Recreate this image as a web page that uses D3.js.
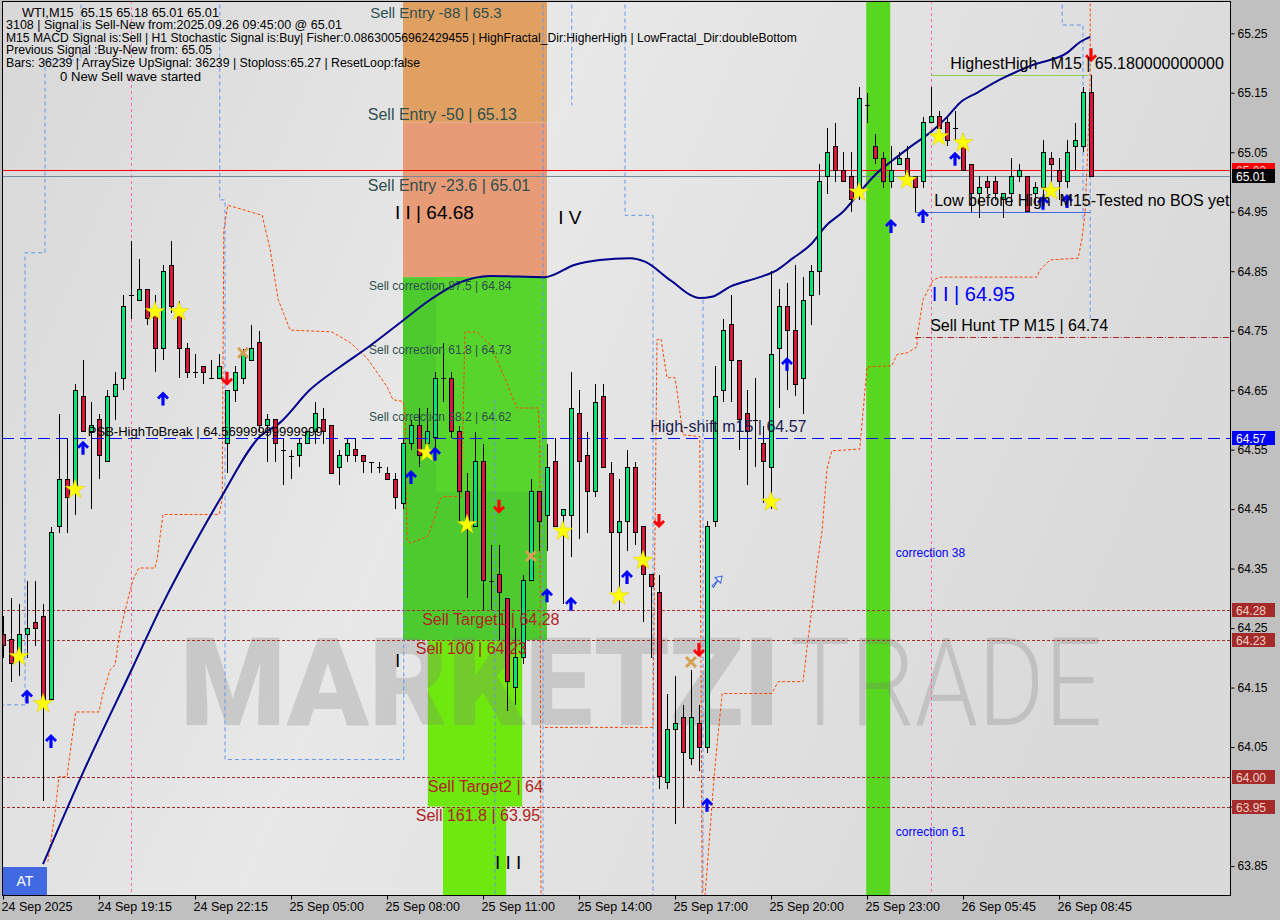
<!DOCTYPE html>
<html><head><meta charset="utf-8">
<script src="https://cdn.jsdelivr.net/npm/d3@7"></script>
<style>body{margin:0;background:#c0c0c0;}svg{display:block;}</style>
</head><body>
<svg id="c" width="1280" height="920"></svg>
<script>
// ---------------- DATA ----------------
const timeLabels = ["24 Sep 2025","24 Sep 19:15","24 Sep 22:15","25 Sep 05:00","25 Sep 08:00","25 Sep 11:00","25 Sep 14:00","25 Sep 17:00","25 Sep 20:00","25 Sep 23:00","26 Sep 05:45","26 Sep 08:45"];
const timeLabelIdx = [0,12,24,36,48,60,72,84,96,108,120,132];
const priceTicks = [65.25,65.15,65.05,64.95,64.85,64.75,64.65,64.55,64.45,64.35,64.25,64.15,64.05,63.95,63.85];

const open = [64.24,64.23,64.20,64.24,64.26,64.27,64.13,64.42,64.50,64.48,
64.64,64.58,64.60,64.53,64.64,64.67,64.81,64.80,64.82,64.78,
64.72,64.86,64.78,64.72,64.68,64.69,64.67,64.67,64.56,64.65,
64.67,64.70,64.73,64.59,64.60,64.55,64.54,64.54,64.56,64.58,
64.60,64.59,64.52,64.54,64.55,64.54,64.53,64.52,64.51,64.50,
64.46,64.56,64.59,64.56,64.57,64.67,64.67,64.58,64.48,64.42,
64.53,64.33,64.34,64.30,64.15,64.20,64.33,64.48,64.44,64.53,
64.44,64.44,64.61,64.54,64.48,64.64,64.51,64.41,64.43,64.52,
64.42,64.34,64.31,63.99,64.08,64.10,64.03,64.09,64.05,64.43,
64.65,64.76,64.70,64.61,64.60,64.56,64.52,64.72,64.79,64.75,
64.67,64.81,64.85,65.01,65.06,65.02,65.01,64.98,65.13,65.06,
65.04,65.00,65.03,65.04,65.01,65.00,65.10,65.11,65.10,65.09,
65.07,65.03,64.98,65.00,65.00,64.97,64.98,65.01,65.01,64.98,
64.99,65.04,65.02,65.00,65.06,65.06,65.15];
const high = [64.27,64.30,64.29,64.33,64.33,64.29,64.42,64.61,64.57,64.66,
64.70,64.63,64.61,64.65,64.68,64.81,64.90,64.87,64.82,64.81,
64.86,64.90,64.80,64.73,64.71,64.69,64.70,64.71,64.65,64.69,
64.72,64.76,64.75,64.61,64.60,64.57,64.55,64.57,64.58,64.63,
64.62,64.59,64.55,64.57,64.57,64.54,64.53,64.53,64.52,64.51,
64.57,64.60,64.62,64.62,64.68,64.73,64.68,64.59,64.51,64.58,
64.56,64.39,64.39,64.30,64.25,64.34,64.50,64.48,64.56,64.57,
64.45,64.68,64.65,64.58,64.66,64.66,64.53,64.50,64.55,64.53,
64.42,64.34,64.34,64.14,64.17,64.12,64.18,64.12,64.43,64.69,
64.77,64.81,64.70,64.65,64.67,64.59,64.85,64.82,64.83,64.86,
64.84,64.86,65.03,65.09,65.10,65.05,65.05,65.16,65.15,65.08,
65.05,65.06,65.05,65.06,65.01,65.11,65.16,65.12,65.11,65.12,
65.08,65.03,65.01,65.01,65.01,64.98,65.04,65.03,65.01,65.00,
65.07,65.05,65.04,65.07,65.10,65.16,65.18];
const low = [64.20,64.16,64.17,64.20,64.22,63.96,64.13,64.41,64.41,64.44,
64.58,64.45,64.50,64.53,64.60,64.65,64.77,64.80,64.76,64.68,
64.70,64.78,64.67,64.67,64.67,64.66,64.67,64.67,64.51,64.63,
64.66,64.70,64.58,64.53,64.53,64.49,64.50,64.52,64.56,64.56,
64.56,64.51,64.49,64.53,64.53,64.51,64.51,64.51,64.50,64.45,
64.45,64.55,64.52,64.55,64.55,64.63,64.57,64.43,64.30,64.42,
64.28,64.28,64.23,64.11,64.12,64.19,64.33,64.38,64.38,64.42,
64.29,64.37,64.40,64.41,64.47,64.52,64.31,64.28,64.38,64.39,
64.26,64.20,63.98,63.98,63.92,63.95,64.02,64.01,64.04,64.42,
64.63,64.63,64.55,64.49,64.52,64.46,64.45,64.62,64.65,64.64,
64.61,64.76,64.81,64.98,65.00,65.00,64.95,64.97,65.10,65.03,
64.99,64.99,65.03,65.00,64.95,64.99,65.10,65.08,65.06,65.07,
65.02,64.95,64.94,64.98,64.97,64.94,64.96,65.00,64.95,64.96,
64.97,65.00,64.97,64.99,65.02,65.05,65.01];
const close = [64.22,64.19,64.24,64.25,64.25,64.13,64.41,64.50,64.47,64.65,
64.58,64.59,64.54,64.64,64.66,64.79,64.81,64.82,64.77,64.72,
64.85,64.79,64.72,64.68,64.68,64.68,64.67,64.69,64.65,64.68,
64.71,64.72,64.59,64.60,64.56,64.55,64.54,64.56,64.58,64.61,
64.58,64.51,64.54,64.56,64.54,64.53,64.53,64.52,64.50,64.47,
64.56,64.59,64.54,64.58,64.67,64.67,64.58,64.48,64.42,64.53,
64.33,64.33,64.31,64.16,64.20,64.33,64.48,64.43,64.52,64.42,
64.45,64.62,64.53,64.48,64.63,64.52,64.41,64.43,64.52,64.41,
64.34,64.32,64.00,64.08,64.09,64.04,64.10,64.05,64.42,64.64,
64.75,64.70,64.60,64.58,64.60,64.53,64.71,64.79,64.75,64.66,
64.80,64.85,65.00,65.05,65.02,65.00,64.97,65.14,65.13,65.04,
65.00,65.02,65.04,65.01,64.99,65.10,65.11,65.09,65.07,65.09,
65.02,64.98,64.99,64.99,64.98,64.98,65.01,65.02,64.95,64.99,
65.05,65.03,65.00,65.05,65.07,65.15,65.01];

// moving average (bar index, price)
const maIdx = [5,10,16.25,19.6,24.9,27.1,32.1,34.6,38.4,42.1,45.5,49.6,53.4,57.1,60.9,67.75,71.5,74.6,78.4,80.25,83.4,87.1,88.6,90.9,94.6,96.75,98.75,100.9,103,105,107.1,109.25,111.25,113.4,116.25,118,119.6,121.75,124.6,128.75,133,134.6,135.9];
const maVal = [63.853,64.007,64.185,64.281,64.415,64.466,64.572,64.595,64.651,64.689,64.721,64.763,64.802,64.831,64.842,64.840,64.861,64.869,64.872,64.866,64.835,64.805,64.807,64.824,64.840,64.852,64.872,64.894,64.928,64.950,64.983,65.015,65.037,65.059,65.087,65.109,65.133,65.150,65.172,65.197,65.217,65.235,65.244];

// envelope step lines (bar index, price)
const envOrangeA = [[5.6,63.857],[6.5,63.94],[7,64.0],[8,64.0],[8.6,64.062],[9.1,64.109],[12,64.109],[12.5,64.141],[13.4,64.18],[14,64.188],[14.6,64.242],[15.6,64.298],[16.25,64.331],[17,64.351],[19,64.351],[19.25,64.365],[20,64.441],[27,64.441],[27.4,64.466],[27.6,64.919],[28.1,64.961],[32.4,64.944],[33.4,64.886],[34.4,64.802],[35.9,64.751],[41.1,64.748],[43.4,64.73],[45.5,64.704],[48,64.656],[48.75,64.634],[50,64.631],[50.25,64.617],[50.5,64.398],[50.9,64.393],[53.1,64.404],[53.75,64.427],[54.6,64.466],[55,64.471],[57.3,64.471],[57.75,64.748],[59.25,64.748],[60.9,64.726],[63,64.662],[64.25,64.62],[66.9,64.62],[67.1,64.567],[67.25,63.8]];
const envOrangeB = [[67.75,64.083],[81.25,64.083],[81.75,64.735],[82.25,64.736],[83,64.671],[84,64.671],[84.25,64.649],[84.6,64.614],[85,64.575],[87.1,64.572],[87.4,63.8]];
const envOrangeC = [[87.75,63.8],[88.6,63.948],[88.9,64.002],[89.4,64.074],[89.9,64.14],[96.1,64.14],[96.9,64.16],[100,64.16],[100.25,64.187],[100.6,64.229],[101.25,64.296],[101.75,64.355],[102.4,64.415],[103,64.518],[103.6,64.548],[107.1,64.551],[108,64.689],[111.1,64.691],[111.75,64.71],[113.1,64.713],[114.25,64.723],[114.25,64.74],[114.6,64.768],[115,64.802],[116.25,64.835],[117.1,64.84],[129.25,64.84],[129.6,64.852],[130.9,64.869],[134.4,64.872],[134.9,64.907],[135.25,64.948],[135.6,65.059],[135.9,65.172],[135.9,65.3]];
const envBlue = [
 [[9.75,65.31],[9.75,65.205],[5.25,65.205],[5.25,64.881],[2.75,64.881],[2.75,64.121],[-0.2,64.121]],
 [[27.1,65.31],[27.1,64.97],[27.75,64.97],[27.75,64.029],[50.1,64.029],[50.1,64.567]],
 [[61.5,64.634],[61.5,63.8]],
 [[67.5,65.31],[67.5,63.8]],
 [[71.1,65.31],[71.1,65.129]],
 [[77.75,65.31],[77.75,64.944],[81.25,64.944],[81.25,63.8]],
 [[87.5,64.802],[87.5,63.8]],
 [[132.4,65.31],[132.4,65.264],[135,65.264],[135,64.936]],
 [[135.9,65.071],[135.9,64.768]]
];

// signal markers (bar index, price)
const starIdx = [2,5,9,19,22,53,58,70,77,80,96,107,113,117,120,131];
const starVal = [64.202,64.123,64.483,64.782,64.782,64.545,64.424,64.413,64.304,64.364,64.462,64.983,65.003,65.076,65.066,64.985];
const upIdx = [3,6,10,20,51,54,68,71,78,88,98,111,115,119,130,133];
const upVal = [64.135,64.060,64.553,64.636,64.504,64.543,64.305,64.291,64.336,63.953,64.694,64.926,64.943,65.039,64.965,64.968];
const downIdx = [28,62,82,87,136];
const downVal = [64.669,64.454,64.430,64.213,65.213];
const crossIdx = [30,66,86];
const crossVal = [64.713,64.371,64.193];

// levels
const targetLevels = [64.28,64.23,64.00,63.95];
const signalLevel = 65.02, bidLevel = 65.01, highToBreak = 64.57;
const huntTP = 64.74, lowBeforeHigh = 64.95, highestHigh = 65.18;
const zoneTop = 65.31, zoneEntryMid = 65.10, zoneCorr = 64.84, zone100 = 64.23, zone161 = 63.95, zoneBottom = 63.8;
const zoneStartIdx = 50, zoneEndIdx = 68, limeStartIdx = 53.1, limeEndIdx = 64.9, limeNarrowStart = 55, limeNarrowEnd = 62.9;
const bandStartIdx = 107.9, bandEndIdx = 110.9;
const separatorsIdx = [16,116];

// ---------------- DRAW ----------------
const svg = d3.select('#c');
const PL=2, PR=1231, PT=1, PB=896;
const x = d3.scaleLinear().domain([0,136]).range([3,1091]);
const y = d3.scaleLinear().domain([63.85,65.25]).range([866,33.3]);
const defs = svg.append('defs');
const gr = defs.append('linearGradient').attr('id','bg').attr('x1','0').attr('x2','1').attr('y1','0').attr('y2','0.3');
gr.append('stop').attr('offset','0').attr('stop-color','#d8d8d8');
gr.append('stop').attr('offset','0.45').attr('stop-color','#e8e8e8');
gr.append('stop').attr('offset','1').attr('stop-color','#dadada');
defs.append('clipPath').attr('id','clip').append('rect').attr('x',PL).attr('y',PT).attr('width',PR-PL).attr('height',PB-PT);

svg.append('rect').attr('width',1280).attr('height',920).attr('fill','#c0c0c0');
svg.append('rect').attr('x',PL).attr('y',PT).attr('width',PR-PL).attr('height',PB-PT).attr('fill','url(#bg)');

const P = svg.append('g').attr('clip-path','url(#clip)');

// zones
function zone(i0,i1,p0,p1,fill){ P.append('rect').attr('x',x(i0)).attr('width',x(i1)-x(i0)).attr('y',y(p0)).attr('height',y(p1)-y(p0)).attr('fill',fill); }
zone(zoneStartIdx,zoneEndIdx,zoneTop,zoneEntryMid,'#e0a062');
zone(zoneStartIdx,zoneEndIdx,zoneEntryMid,zoneCorr,'#e79b77');
zone(zoneStartIdx,zoneEndIdx,zoneCorr,zone100,'#4dcb2e');
zone(zoneStartIdx+4.1,zoneEndIdx,zoneCorr,64.48,'#58d52c');
zone(limeStartIdx,limeEndIdx,zone100,zone161,'#6ee80e');
zone(limeNarrowStart,limeNarrowEnd,zone161,zoneBottom,'#6ee80e');
zone(bandStartIdx,bandEndIdx,zoneTop,zoneBottom,'#57d71f');

// watermark
const wm = P.append('g').attr('opacity',0.26).attr('fill','#7a7a7a');
wm.append('text').attr('x',180).attr('y',725).attr('font-family','Roboto, Liberation Sans, sans-serif').attr('font-weight',900)
  .attr('font-size',122).attr('textLength',600).attr('lengthAdjust','spacingAndGlyphs').text('MARKETZI');
wm.append('text').attr('x',790).attr('y',725).attr('font-family','Roboto, Liberation Sans, sans-serif').attr('font-weight',300)
  .attr('font-size',122).attr('textLength',312).attr('lengthAdjust','spacingAndGlyphs').text('TRADE');

// separators
P.selectAll('line.sep').data(separatorsIdx).join('line').attr('x1',d=>x(d)+.5).attr('x2',d=>x(d)+.5).attr('y1',PT).attr('y2',PB)
  .attr('stroke','#ff69b4').attr('stroke-dasharray','3,3');

// level lines
P.selectAll('line.tg').data(targetLevels).join('line').attr('x1',PL).attr('x2',PR).attr('y1',d=>Math.round(y(d))+.5).attr('y2',d=>Math.round(y(d))+.5)
  .attr('stroke','#a52a2a').attr('stroke-dasharray','3,2');
function hline(p,i0,x1,col,dash,w){ P.append('line').attr('x1',i0===null?PL:x(i0)).attr('x2',x1===null?PR:x(x1)).attr('y1',Math.round(y(p))+.5).attr('y2',Math.round(y(p))+.5).attr('stroke',col).attr('stroke-width',w||1).attr('stroke-dasharray',dash||null); }
hline(signalLevel,null,null,'#ff0000');
hline(bidLevel,null,null,'#778899');
hline(huntTP,114,null,'#b22222','6,2,1,2');
hline(lowBeforeHigh,114,135.9,'#4169e1');
hline(highestHigh,116,135.6,'#8fd14f');

// envelopes
const line = d3.line().x(d=>x(d[0])).y(d=>y(d[1]));
envBlue.forEach(pts=>P.append('path').attr('d',line(pts)).attr('fill','none').attr('stroke','#6495ed').attr('stroke-dasharray','4,3'));
[envOrangeA,envOrangeB,envOrangeC].forEach(pts=>P.append('path').attr('d',line(pts)).attr('fill','none').attr('stroke','#ff4500').attr('stroke-dasharray','3,2'));

// MA
P.append('path').attr('d',d3.line().curve(d3.curveMonotoneX).x((d,k)=>x(maIdx[k])).y((d,k)=>y(maVal[k]))(maVal)).attr('fill','none').attr('stroke','#00008b').attr('stroke-width',2);

// candles
const idx = d3.range(open.length);
const C = P.append('g').attr('shape-rendering','crispEdges');
C.selectAll('line.w').data(idx).join('line').attr('x1',i=>x(i)+.5).attr('x2',i=>x(i)+.5).attr('y1',i=>y(high[i])).attr('y2',i=>y(low[i])).attr('stroke','#000');
C.selectAll('rect.b').data(idx.filter(i=>open[i]!==close[i])).join('rect')
  .attr('x',i=>x(i)-1.5).attr('width',4)
  .attr('y',i=>y(Math.max(open[i],close[i]))).attr('height',i=>Math.max(1,y(Math.min(open[i],close[i]))-y(Math.max(open[i],close[i]))))
  .attr('fill',i=>close[i]>open[i]?'#00e676':'#dc143c').attr('stroke','#000');
C.selectAll('line.d').data(idx.filter(i=>open[i]===close[i])).join('line').attr('x1',i=>x(i)-2).attr('x2',i=>x(i)+3).attr('y1',i=>Math.round(y(open[i]))+.5).attr('y2',i=>Math.round(y(open[i]))+.5).attr('stroke','#000');

// blue highToBreak line (over candles)
hline(highToBreak,null,null,'#0000ff','12,6');

// markers
const star = d3.symbol(d3.symbolStar).size(120)();
P.selectAll('path.st').data(starIdx).join('path').attr('d',star).attr('transform',(d,k)=>`translate(${x(d)},${y(starVal[k])})`).attr('fill','#ffff00').attr('stroke','#d8c800').attr('stroke-width',0.5);
const arrowUp = 'M0,-7 L6,-1 L4,1 L1.6,-1.6 L1.6,7 L-1.6,7 L-1.6,-1.6 L-4,1 L-6,-1 Z';
P.selectAll('path.up').data(upIdx).join('path').attr('d',arrowUp).attr('transform',(d,k)=>`translate(${x(d)},${y(upVal[k])})`).attr('fill','#0000ff');
P.selectAll('path.dn').data(downIdx).join('path').attr('d',arrowUp).attr('transform',(d,k)=>`translate(${x(d)},${y(downVal[k])}) scale(1,-1)`).attr('fill','#ff0000');
const cg = P.selectAll('g.cx').data(crossIdx).join('g').attr('transform',(d,k)=>`translate(${x(d)},${y(crossVal[k])})`);
cg.append('path').attr('d','M-5,-5L5,5M-5,5L5,-5').attr('stroke','#d4a052').attr('stroke-width',3);
P.append('path').attr('d','M-2,3 L2,-1 L0,-3 L5,-4 L4,1 L2,-1 L-1,4 Z').attr('transform',`translate(${x(89)},${y(64.328)}) scale(1.4)`).attr('fill','#fff').attr('stroke','#4169e1').attr('stroke-width',0.8);

// annotations
const ann = [
 ['Sell Entry -88 | 65.3',45.9,65.276,15,'#2f4f4f'],
 ['Sell Entry -50 | 65.13',45.6,65.104,16,'#2f4f4f'],
 ['Sell Entry -23.6 | 65.01',45.6,64.985,16,'#2f4f4f'],
 ['I I | 64.68',49,64.938,19,'#000'],
 ['I V',69.4,64.930,19,'#000'],
 ['Sell correction 87.5 | 64.84',45.75,64.819,12,'#2f4f4f'],
 ['Sell correction 61.8 | 64.73',45.75,64.710,12,'#2f4f4f'],
 ['Sell correction 38.2 | 64.62',45.75,64.599,12,'#2f4f4f'],
 ['PSB-HighToBreak | 64.56999999999999',10.6,64.573,13,'#000'],
 ['High-shift m15 | 64.57',80.9,64.580,16,'#1c1c50'],
 ['Sell Target1 | 64.28',52.4,64.256,16,'#b22222'],
 ['Sell 100 | 64.23',51.6,64.206,16,'#b22222'],
 ['Sell Target2 | 64',53.1,63.975,16,'#b22222'],
 ['Sell 161.8 | 63.95',51.6,63.926,16,'#b22222'],
 ['I',49,64.185,19,'#000'],
 ['I I I',61.5,63.845,19,'#000'],
 ['HighestHigh   M15 | 65.180000000000',118.4,65.190,16,'#000'],
 ['Low before High  M15-Tested no BOS yet',116.4,64.960,16,'#000'],
 ['I I | 64.95',116.1,64.800,20,'#0000ff'],
 ['Sell Hunt TP M15 | 64.74',115.9,64.750,16,'#000'],
 ['correction 38',111.6,64.370,12,'#0000ff'],
 ['correction 61',111.6,63.901,12,'#0000ff']
];
P.selectAll('text.an').data(ann).join('text').attr('x',d=>x(d[1])).attr('y',d=>y(d[2])).attr('font-size',d=>d[3]).attr('fill',d=>d[4])
  .attr('font-family','Liberation Sans, Arial, sans-serif').style('white-space','pre').text(d=>d[0]);

// info text
const info = [
 ['WTI,M15  65.15 65.18 65.01 65.01',22,17,197],
 ['3108 | Signal is Sell-New from:2025.09.26 09:45:00 @ 65.01',6,29,336],
 ['M15 MACD Signal is:Sell | H1 Stochastic Signal is:Buy| Fisher:0.08630056962429455 | HighFractal_Dir:HigherHigh | LowFractal_Dir:doubleBottom',6,41.5,791],
 ['Previous Signal :Buy-New from: 65.05',6,54,206],
 ['Bars: 36239 | ArraySize UpSignal: 36239 | Stoploss:65.27 | ResetLoop:false',6,66.5,414],
 ['0 New Sell wave started',60,81,141]
];
svg.selectAll('text.inf').data(info).join('text').attr('x',d=>d[1]).attr('y',d=>d[2]).attr('textLength',d=>d[3]).attr('lengthAdjust','spacingAndGlyphs')
 .attr('font-size',12).attr('font-family','Liberation Sans, Arial, sans-serif').attr('fill','#000').style('white-space','pre').text(d=>d[0]);

// AT button
svg.append('rect').attr('x',3).attr('y',867).attr('width',44).attr('height',29).attr('fill','#4169e1');
svg.append('text').attr('x',25).attr('y',886).attr('text-anchor','middle').attr('fill','#fff').attr('font-size',14).attr('font-family','Liberation Sans, Arial, sans-serif').text('AT');

// frame
svg.append('rect').attr('x',PL+.5).attr('y',PT+.5).attr('width',PR-PL-1).attr('height',PB-PT-1).attr('fill','none').attr('stroke','#000');

// axes
const ay = svg.append('g').attr('transform',`translate(${PR-0.5},0)`).call(d3.axisRight(y).tickValues(priceTicks).tickFormat(d3.format('.2f')).tickSize(4).tickPadding(3));
ay.select('.domain').remove();
ay.selectAll('text').attr('font-size',12).attr('font-family','Liberation Sans, Arial, sans-serif').attr('fill','#000');
ay.selectAll('line').attr('stroke','#000');
const ax = svg.append('g').attr('transform',`translate(0,${PB-0.5})`).call(d3.axisBottom(x).tickValues(timeLabelIdx).tickFormat((d,k)=>timeLabels[k]).tickSize(4).tickPadding(3));
ax.select('.domain').remove();
ax.selectAll('text').attr('text-anchor','start').attr('dx',-2).attr('font-size',12.5).attr('font-family','Liberation Sans, Arial, sans-serif').attr('fill','#000');
ax.selectAll('line').attr('stroke','#000');

// price label boxes
function plabel(p,fill,tcol,txt){
  const yy = Math.round(y(p));
  svg.append('rect').attr('x',PR+1).attr('y',yy-7).attr('width',43).attr('height',14).attr('fill',fill);
  svg.append('text').attr('x',PR+5).attr('y',yy+5).attr('font-size',12).attr('font-family','Liberation Sans, Arial, sans-serif').attr('fill',tcol).text(txt);
}
targetLevels.forEach(p=>plabel(p,'#a52a2a','#f0d2c4',d3.format('.2f')(p)));
plabel(highToBreak,'#0000ff','#fff',d3.format('.2f')(highToBreak));
plabel(signalLevel,'#ff0000','#ffd0d0',d3.format('.2f')(signalLevel));
plabel(bidLevel,'#000','#fff',d3.format('.2f')(bidLevel));
</script>
</body></html>
